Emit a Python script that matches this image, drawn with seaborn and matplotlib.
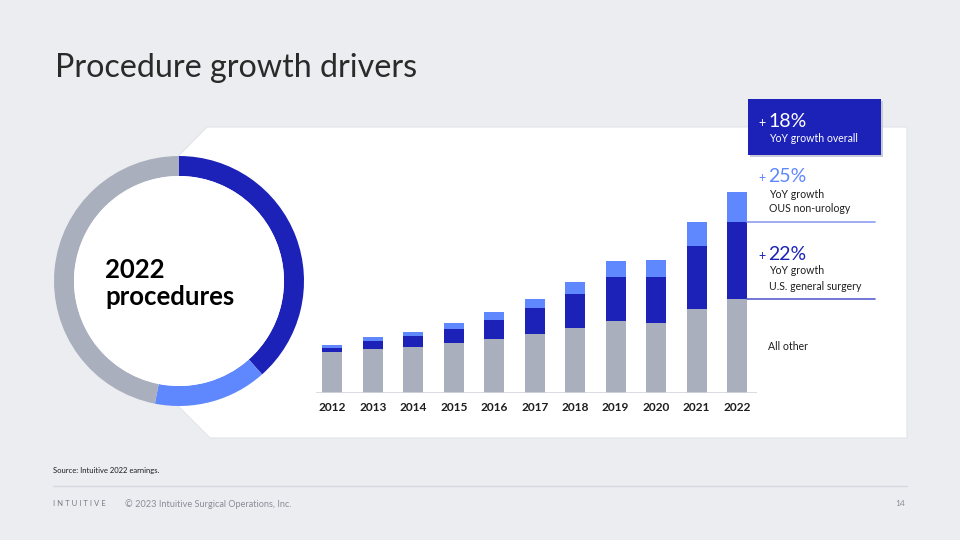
import matplotlib
matplotlib.use("Agg")
import matplotlib.pyplot as plt
from matplotlib.patches import Polygon, Rectangle, Circle
import seaborn as sns
import pandas as pd

# da Vinci procedures per year, in thousands
years = ["2012", "2013", "2014", "2015", "2016", "2017", "2018", "2019", "2020", "2021", "2022"]
all_other = [381, 409, 425, 462, 500, 547, 603, 668, 655, 783, 880]
us_general_surgery = [40, 78, 103, 137, 183, 243, 324, 417, 431, 590, 721]
ous_non_urology = [25, 35, 40, 51, 69, 87, 110, 144, 156, 222, 275]

# callouts on the right
growth_labels = ["+18%", "+25%", "+22%"]

BG = "#ECEDF1"
GRAY = "#A9AFBD"
DARK = "#1C22B7"
LIGHT = "#5F88FF"
TEXT = "#1E1E1E"

sns.set_theme(style="white")
plt.rcParams["font.family"] = ["Lato", "DejaVu Sans"]

df = pd.DataFrame({
    "year": years,
    "all_other": all_other,
    "us_gs": us_general_surgery,
    "ous": ous_non_urology,
})
df["mid"] = df["all_other"] + df["us_gs"]
df["total"] = df["mid"] + df["ous"]

fig = plt.figure(figsize=(9.6, 5.4), dpi=100)
fig.patch.set_facecolor(BG)

# background layer in pixel coordinates (slide furniture)
bg = fig.add_axes([0, 0, 1, 1], zorder=0)
bg.set_xlim(0, 960)
bg.set_ylim(540, 0)
bg.axis("off")

# white chevron panel
panel = Polygon([(207, 127), (907, 127), (907, 438), (210, 438), (54, 282)],
                closed=True, facecolor="white", edgecolor="#E2E4EA", lw=0.8)
bg.add_patch(panel)

# title
bg.text(55, 68, "Procedure growth drivers", fontsize=23.2, color="#2A2A2A",
        va="center", ha="left")

# callout box (+18%)
bg.add_patch(Rectangle((750, 101), 133, 56, facecolor="#C9CBD6", edgecolor="none"))
bg.add_patch(Rectangle((748, 99), 133, 56, facecolor=DARK, edgecolor="none"))
bg.text(758, 127, "+", fontsize=9, color="white", va="baseline")
bg.text(768, 127, growth_labels[0][1:], fontsize=14, color="white", va="baseline")
bg.text(769, 138, "YoY growth overall", fontsize=7.6, color="white", va="center")

# +25% OUS non-urology
bg.text(758, 182, "+", fontsize=9, color=LIGHT, va="baseline")
bg.text(768, 182, growth_labels[1][1:], fontsize=14, color=LIGHT, va="baseline")
bg.text(769, 194, "YoY growth", fontsize=7.6, color=TEXT, va="center")
bg.text(769, 209, "OUS non-urology", fontsize=7.6, color=TEXT, va="center")

# +22% U.S. general surgery
bg.text(758, 260, "+", fontsize=9, color=DARK, va="baseline")
bg.text(768, 260, growth_labels[2][1:], fontsize=14, color=DARK, va="baseline")
bg.text(769, 271, "YoY growth", fontsize=7.6, color=TEXT, va="center")
bg.text(769, 286, "U.S. general surgery", fontsize=7.6, color=TEXT, va="center")

bg.text(768, 347, "All other", fontsize=7.6, color=TEXT, va="center")

# footer
bg.text(53, 470, "Source: Intuitive 2022 earnings.", fontsize=5.5, color=TEXT, va="center")
bg.plot([53, 907], [486, 486], color="#D6D8DE", lw=1)
bg.text(53, 504, "I N T U I T I V E", fontsize=5.6, color="#7A7D86", va="center")
bg.text(125, 504, "\u00a9 2023 Intuitive Surgical Operations, Inc.", fontsize=6.6,
        color="#8A8D96", va="center")
bg.text(905, 504, "14", fontsize=6, color="#8A8D96", va="center", ha="right")

# stacked bars
ax = fig.add_axes([316 / 960, (540 - 392.7) / 540, 441 / 960, 266.7 / 540], zorder=2)
ax.patch.set_alpha(0)
sns.barplot(data=df, x="year", y="total", color=LIGHT, width=0.5, ax=ax,
            saturation=1, edgecolor="none")
sns.barplot(data=df, x="year", y="mid", color=DARK, width=0.5, ax=ax,
            saturation=1, edgecolor="none")
sns.barplot(data=df, x="year", y="all_other", color=GRAY, width=0.5, ax=ax,
            saturation=1, edgecolor="none")
ax.set_xlim(-0.4, 10.49)
ax.set_ylim(0, 2497)
ax.set_xlabel("")
ax.set_ylabel("")
ax.set_yticks([])
sns.despine(ax=ax, left=True, top=True, right=True, bottom=True)
ax.axhline(0, color="#D3D6DD", lw=1.2, zorder=5)
ax.tick_params(axis="x", length=0, pad=7)
for lab in ax.get_xticklabels():
    lab.set_fontweight("bold")
    lab.set_fontsize(8.6)
    lab.set_color(TEXT)

# callout rules running right from the 2022 bar
last = len(years) - 1
ax.plot([last + 0.24, last + 3.4], [df["mid"].iloc[-1]] * 2, color="#8E9FF2",
        lw=1.2, clip_on=False)
ax.plot([last + 0.24, last + 3.4], [df["all_other"].iloc[-1]] * 2, color="#5A60CC",
        lw=1.2, clip_on=False)

# donut of 2022 mix
axd = fig.add_axes([54 / 960, (540 - 406) / 540, 250 / 960, 250 / 540], zorder=3)
mix = [us_general_surgery[-1], ous_non_urology[-1], all_other[-1]]
axd.pie(mix, colors=[DARK, LIGHT, GRAY], startangle=90, counterclock=False,
        radius=1, wedgeprops=dict(width=0.16, edgecolor="none"))
axd.add_patch(Circle((0, 0), 0.84, facecolor="white", edgecolor="none"))
axd.set_xlim(-1.0, 1.0)
axd.set_ylim(-1.0, 1.0)
axd.set_aspect("equal")
axd.text(-0.59, 0.09, "2022", fontsize=18.5, fontweight="bold", color="black",
         va="center", ha="left")
axd.text(-0.59, -0.13, "procedures", fontsize=18.5, fontweight="bold", color="black",
         va="center", ha="left")

fig.savefig("out.png", dpi=100, facecolor=fig.get_facecolor())
